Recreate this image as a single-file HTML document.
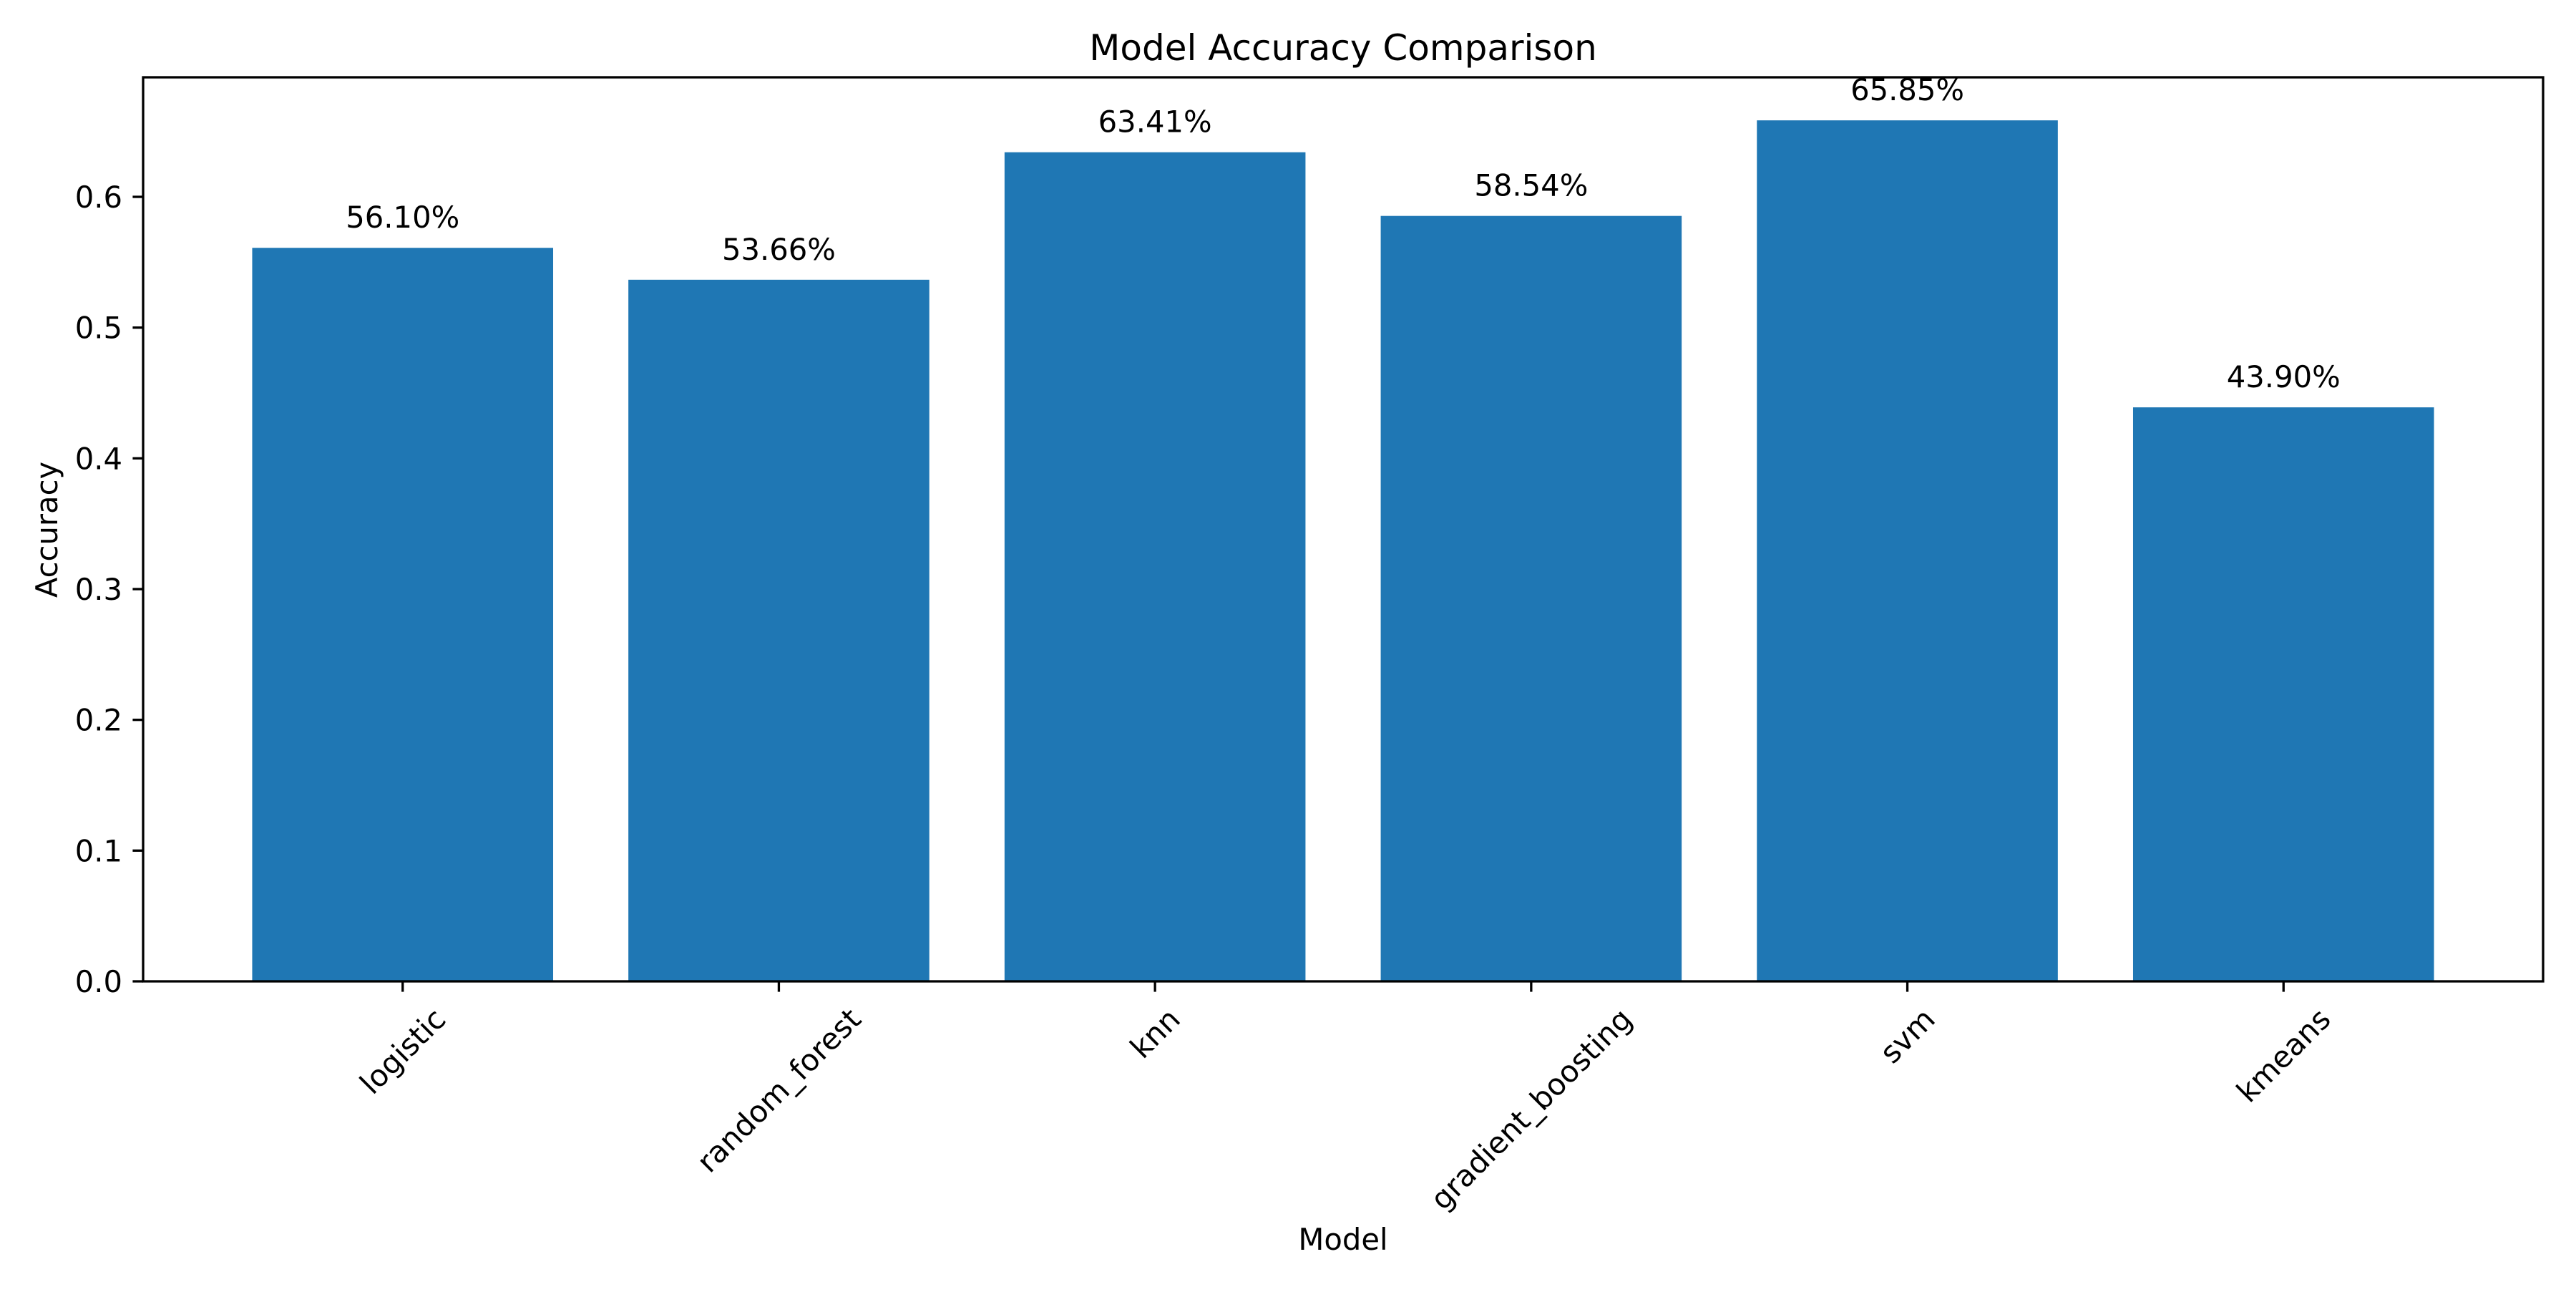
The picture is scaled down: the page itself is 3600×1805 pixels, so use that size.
<!DOCTYPE html>
<html><head><meta charset="utf-8"><style>
html,body{margin:0;padding:0;background:#fff;}
svg text{font-family:"DejaVu Sans","Liberation Sans",sans-serif;fill:#000;}
</style></head><body>
<svg id="chart" width="3600" height="1800" viewBox="0 0 3600 1800" xmlns="http://www.w3.org/2000/svg">
<rect width="3600" height="1800" fill="#fff"/>
<g id="bars"></g>
<g id="ticks"></g>
<text x="1877" y="84" font-size="50" text-anchor="middle">Model Accuracy Comparison</text>
<text x="1877" y="1746" font-size="41.7" text-anchor="middle">Model</text>
<text x="0" y="0" font-size="41.7" text-anchor="middle" transform="translate(80,740) rotate(-90)">Accuracy</text>
</svg>
<script>
const categories = ["logistic","random_forest","knn","gradient_boosting","svm","kmeans"];
const accuracy = [0.5610,0.5366,0.6341,0.5854,0.6585,0.4390];
const valueLabels = ["56.10%","53.66%","63.41%","58.54%","65.85%","43.90%"];
const yTicks = [0.0,0.1,0.2,0.3,0.4,0.5,0.6];
const yTickLabels = ["0.0","0.1","0.2","0.3","0.4","0.5","0.6"];

const NS="http://www.w3.org/2000/svg";
const L=200,R=3554,T=108,B=1371;
const xmin=-0.69,xmax=categories.length-1+0.69;
const ymax=Math.max(...accuracy)*1.05;
const xs=v=>L+(v-xmin)/(xmax-xmin)*(R-L);
const ys=v=>B-v/ymax*(B-T);
const bars=document.getElementById('bars');
const ticks=document.getElementById('ticks');
function mk(tag,attrs,parent){const e=document.createElementNS(NS,tag);for(const k in attrs)e.setAttribute(k,attrs[k]);parent.appendChild(e);return e;}

categories.forEach((c,i)=>{
  const x0=xs(i-0.4),x1=xs(i+0.4),y=ys(accuracy[i]);
  const r=mk('rect',{x:x0,y:y,width:x1-x0,height:B-y,fill:'#1f77b4'},bars);
  
  
  const t=mk('text',{x:xs(i),y:y-28,'font-size':41.7,'text-anchor':'middle'},bars);
  t.textContent=valueLabels[i];
  
  
  const tk=mk('line',{x1:xs(i),x2:xs(i),y1:B,y2:B+14.6,stroke:'#000','stroke-width':3.3},ticks);
  
  
  const lb=mk('text',{x:0,y:0,'font-size':41.7,'text-anchor':'middle','dominant-baseline':'central'},ticks);
  lb.textContent=c;
  
  
  const w=lb.getComputedTextLength(),h=46;
  const half=(w+h)/Math.SQRT2/2;
  lb.setAttribute('transform','translate('+xs(i)+','+(B+29+half)+') rotate(-45)');
});
yTicks.forEach((v,i)=>{
  const y=ys(v);
  const tk=mk('line',{x1:L-14.6,x2:L,y1:y,y2:y,stroke:'#000','stroke-width':3.3},ticks);
  
  
  const t=mk('text',{x:L-29,y:y+15,'font-size':41.7,'text-anchor':'end'},ticks);
  t.textContent=yTickLabels[i];
  
  
});
const frame=mk('rect',{x:L,y:T,width:R-L,height:B-T,fill:'none',stroke:'#000','stroke-width':3.3},document.getElementById('chart'));


</script>
</body></html>
